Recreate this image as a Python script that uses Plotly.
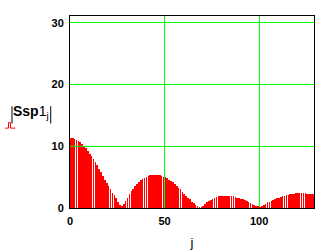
import plotly.graph_objects as go

# |Ssp1_j| magnitudes, j = 0..128
j = list(range(129))
ssp1_abs = [
    11.3, 11.3, 11.1, 11.0, 10.9, 10.7, 10.4, 10.1, 9.7, 9.2,
    8.8, 8.4, 7.9, 7.4, 6.9, 6.3, 5.8, 5.2, 4.6, 4.1,
    3.5, 3.0, 2.5, 2.1, 1.6, 1.0, 0.5, 0.3, 0.6, 1.1,
    1.6, 2.2, 2.7, 3.1, 3.5, 3.9, 4.2, 4.5, 4.7, 4.9,
    5.0, 5.2, 5.3, 5.4, 5.4, 5.4, 5.4, 5.3, 5.2, 5.1,
    5.0, 4.8, 4.6, 4.4, 4.2, 3.9, 3.6, 3.3, 3.0, 2.6,
    2.3, 2.0, 1.7, 1.4, 1.0, 0.8, 0.5, 0.3, 0.2, 0.2,
    0.4, 0.6, 0.9, 1.1, 1.3, 1.5, 1.7, 1.8, 1.9, 1.9,
    2.0, 2.0, 2.0, 2.0, 2.0, 1.9, 1.9, 1.8, 1.7, 1.6,
    1.5, 1.4, 1.3, 1.1, 1.0, 0.8, 0.7, 0.5, 0.4, 0.3,
    0.1, 0.3, 0.5, 0.7, 0.9, 1.0, 1.2, 1.3, 1.5, 1.6,
    1.7, 1.8, 1.9, 2.0, 2.1, 2.1, 2.2, 2.3, 2.3, 2.4,
    2.4, 2.4, 2.4, 2.4, 2.4, 2.3, 2.3, 2.3, 2.2,
]
x_ticks = [0, 50, 100]
y_ticks = [0, 10, 20, 30]

FONT = "Liberation Sans"
GREEN = "#00ff00"

fig = go.Figure()
fig.add_trace(go.Bar(
    x=j, y=ssp1_abs, width=0.85, offset=0,
    marker=dict(color="rgba(255,0,0,0.995)", line=dict(width=0)),
))

fig.update_layout(
    width=336, height=250,
    margin=dict(l=70, r=22, t=16, b=42),
    paper_bgcolor="white", plot_bgcolor="white",
    showlegend=False,
    bargap=0,
    xaxis=dict(
        range=[0, 129], tickvals=x_ticks, ticktext=[str(v) for v in x_ticks],
        showgrid=True, gridcolor=GREEN, gridwidth=1,
        showline=True, mirror=True, linecolor="black", linewidth=1,
        zeroline=False, ticks="", ticklabelstandoff=3, automargin=False,
        tickfont=dict(family=FONT, size=11, color="black", weight="bold"),
        title=dict(text="j", font=dict(family=FONT, size=13, color="black"), standoff=14),
    ),
    yaxis=dict(
        range=[0, 31.1], tickvals=y_ticks, ticktext=[str(v) for v in y_ticks],
        showgrid=True, gridcolor=GREEN, gridwidth=1,
        showline=True, mirror=True, linecolor="black", linewidth=1,
        zeroline=False, ticks="", ticklabelstandoff=3, automargin=False,
        tickfont=dict(family=FONT, size=11, color="black", weight="bold"),
    ),
)

# grid line at y = 10 is drawn over the tall bars in the reference
fig.add_shape(type="line", xref="x", yref="y", layer="above",
              x0=0, x1=9, y0=y_ticks[1], y1=y_ticks[1],
              line=dict(color=GREEN, width=1))

# y-axis label: |Ssp1_j|
fig.add_annotation(
    xref="paper", yref="paper", x=-0.161, y=0.498, xanchor="center", yanchor="middle",
    text="<b>Ssp</b>1<sub>j</sub>", showarrow=False,
    font=dict(family=FONT, size=14, color="black"),
)
fig.add_shape(type="line", xref="paper", yref="paper",
              x0=-0.2377, x1=-0.2377, y0=0.44, y1=0.53,
              line=dict(color="black", width=1))
fig.add_shape(type="line", xref="paper", yref="paper",
              x0=-0.079, x1=-0.079, y0=0.44, y1=0.53,
              line=dict(color="black", width=1))
# legend symbol for the bar trace (red)
fig.add_shape(type="path", xref="paper", yref="paper",
              path="M -0.267,0.416 L -0.252,0.416 L -0.252,0.445 L -0.244,0.445 L -0.244,0.416 L -0.224,0.416",
              line=dict(color="#ff0000", width=1))

fig.write_html("out.html")
